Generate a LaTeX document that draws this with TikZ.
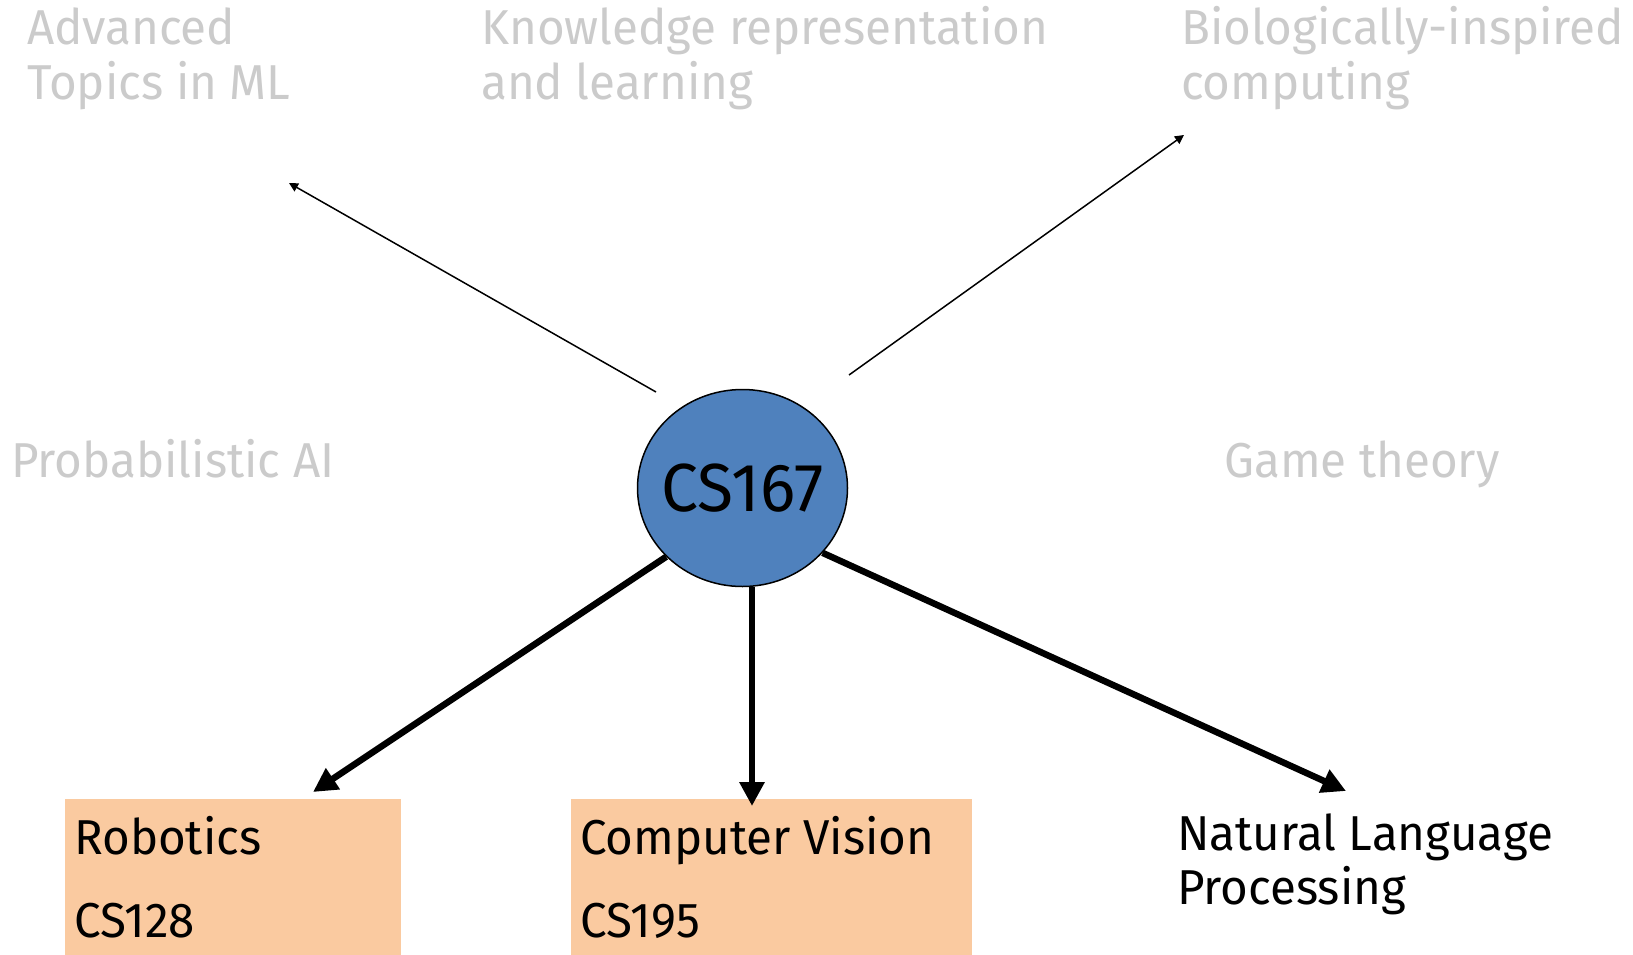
\documentclass[tikz,border=0pt]{standalone}
\usepackage{fontspec}
\setmainfont[FakeStretch=0.97]{Fira Sans}
\usetikzlibrary{arrows.meta,shapes.geometric}
\definecolor{nodeblue}{RGB}{79,129,189}
\definecolor{peach}{RGB}{250,202,160}
\definecolor{faded}{RGB}{203,203,203}
\tikzset{
  topic/.style={anchor=base west, inner sep=0pt, align=left, text=faded,
    font=\fontsize{49}{55}\selectfont},
  course/.style={anchor=base west, inner sep=0pt, align=left, text=black,
    font=\fontsize{49}{83}\selectfont},
  nlp/.style={anchor=base west, inner sep=0pt, align=left, text=black,
    font=\fontsize{49}{54}\selectfont},
  coursebox/.style={fill=peach, draw=none, anchor=north west, inner sep=0pt},
  hub/.style={ellipse, fill=nodeblue, draw=black, line width=1.5pt,
    minimum width=210pt, minimum height=197pt, inner sep=0pt,
    font=\fontsize{68}{72}\selectfont},
  thinarrow/.style={line width=1.5pt, -{Triangle[length=9pt,width=9pt]}},
  thickarrow/.style={line width=6.5pt, -{Triangle[length=24pt,width=24pt]}}
}
\begin{document}
\begin{tikzpicture}[x=1pt, y=-1pt]
  \clip (0,0) rectangle (1633,954);
  \fill[white] (0,0) rectangle (1633,954);
  \useasboundingbox (0,0) rectangle (1633,954);

  % faded topics around the hub (anchored at the last line's baseline)
  \node[topic] (adv)  at (27,99)   {Advanced\\Topics in ML};
  \node[topic] (krl)  at (481,99)  {Knowledge representation\\and learning};
  \node[topic] (bio)  at (1181,99) {Biologically-inspired\\computing};
  \node[topic] (prob) at (11,477)  {Probabilistic AI};
  \node[topic] (game) at (1224,477){Game theory};

  % course boxes
  \node[coursebox, minimum width=336pt, minimum height=170pt] (robbox) at (65,799) {};
  \node[coursebox, minimum width=401pt, minimum height=170pt] (cvbox)  at (571,799) {};
  \node[course] (rob) at (74,937)  {Robotics\\CS128};
  \node[course] (cv)  at (580,937) {Computer Vision\\CS195};
  \node[nlp]    (nlp) at (1177,904) {Natural Language\\Processing};

  % central course
  \node[hub] (cs) at (742.5,488) {\makebox[0pt]{CS167}};

  % arrow ends
  \coordinate (advtip) at (289,183);
  \coordinate (advstart) at (656,392);
  \coordinate (biotip) at (1184,135);
  \coordinate (biostart) at (849,375);
  \coordinate (robtip) at (313,792);
  \coordinate (cvtip) at (752,806);
  \coordinate (nlptip) at (1346,791);

  \draw[thinarrow] (advstart) -- (advtip);
  \draw[thinarrow] (biostart) -- (biotip);
  \draw[thickarrow] (cs.-138) -- (robtip);
  \draw[thickarrow] (cvtip |- cs.south) -- (cvtip);
  \draw[thickarrow] (cs.-39) -- (nlptip);
\end{tikzpicture}
\end{document}
